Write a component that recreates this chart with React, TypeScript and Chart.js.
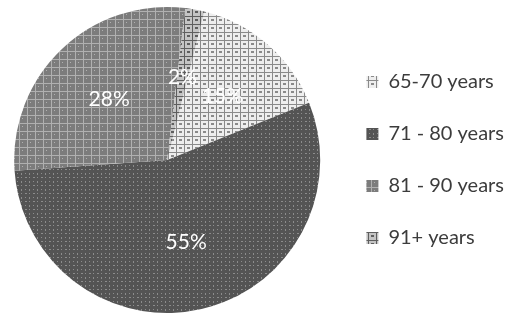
import React, { useEffect, useRef } from "react";
import { Chart, registerables } from "chart.js";

Chart.register(...registerables);

const categories = ["65-70 years", "71 - 80 years", "81 - 90 years", "91+ years"];
const shares = [15, 55, 28, 2];
const sliceLabels = ["15%", "55%", "28%", "2%"];

type PatSpec = { bg: string; fg: string; kind: string };
const patternSpecs: PatSpec[] = [
  { bg: "#eeeeee", fg: "#8a8a8a", kind: "grid" },
  { bg: "#545454", fg: "#8c8c8c", kind: "dots" },
  { bg: "#7c7c7c", fg: "#b0b0b0", kind: "cross" },
  { bg: "#c4c4c4", fg: "#5e5e5e", kind: "grid" },
];

function makePattern(spec: PatSpec): CanvasPattern | string {
  const s = 8;
  const c = document.createElement("canvas");
  c.width = s;
  c.height = s;
  const g = c.getContext("2d");
  if (!g) return spec.bg;
  g.fillStyle = spec.bg;
  g.fillRect(0, 0, s, s);
  g.fillStyle = spec.fg;
  if (spec.kind === "grid") {
    g.fillRect(0, 0, s, 1);
    g.fillRect(0, 0, 1, s);
    g.fillRect(3, 3, 3, 2);
  } else if (spec.kind === "dots") {
    g.fillRect(1, 1, 2, 1);
    g.fillRect(5, 5, 1, 2);
    g.fillRect(5, 1, 1, 1);
    g.fillRect(1, 5, 1, 1);
  } else {
    g.fillRect(3, 0, 1, s);
    g.fillRect(0, 3, s, 1);
    g.fillRect(6, 6, 1, 1);
  }
  const p = g.createPattern(c, "repeat");
  return p || spec.bg;
}

const sliceLabelPlugin = {
  id: "sliceLabels",
  afterDatasetsDraw(chart: any) {
    const meta = chart.getDatasetMeta(0);
    const ctx = chart.ctx;
    ctx.save();
    ctx.fillStyle = "#ffffff";
    ctx.font = "21px Lato";
    ctx.textAlign = "center";
    ctx.textBaseline = "middle";
    meta.data.forEach((arc: any, i: number) => {
      const p = arc.getProps(["x", "y", "startAngle", "endAngle", "outerRadius"], true);
      const mid = (p.startAngle + p.endAngle) / 2;
      const r = p.outerRadius * 0.55;
      ctx.fillText(sliceLabels[i], p.x + Math.cos(mid) * r, p.y + Math.sin(mid) * r);
    });
    ctx.restore();
  },
};

export default function App() {
  const ref = useRef<HTMLCanvasElement | null>(null);
  useEffect(() => {
    if (!ref.current) return;
    const fills = patternSpecs.map(makePattern);
    const chart = new Chart(ref.current, {
      type: "pie",
      data: {
        labels: categories,
        datasets: [
          {
            data: shares,
            backgroundColor: fills as any,
            borderWidth: 0,
          },
        ],
      },
      options: {
        animation: false,
        responsive: false,
        maintainAspectRatio: false,
        rotation: 14,
        layout: { padding: { left: -16, top: 7, bottom: 7, right: 6 } },
        plugins: {
          tooltip: { enabled: false },
          legend: {
            position: "right",
            labels: {
              boxWidth: 12,
              boxHeight: 12,
              padding: 32,
              color: "#3c3c3c",
              font: { family: "Lato", size: 20 },
            },
          },
        },
      },
      plugins: [sliceLabelPlugin],
    });
    return () => chart.destroy();
  }, []);
  return (
    <div style={{ position: "absolute", left: 0, top: 0, width: 520, height: 320, background: "#fff" }}>
      <canvas ref={ref} width={520} height={320} style={{ width: 520, height: 320 }} />
    </div>
  );
}
